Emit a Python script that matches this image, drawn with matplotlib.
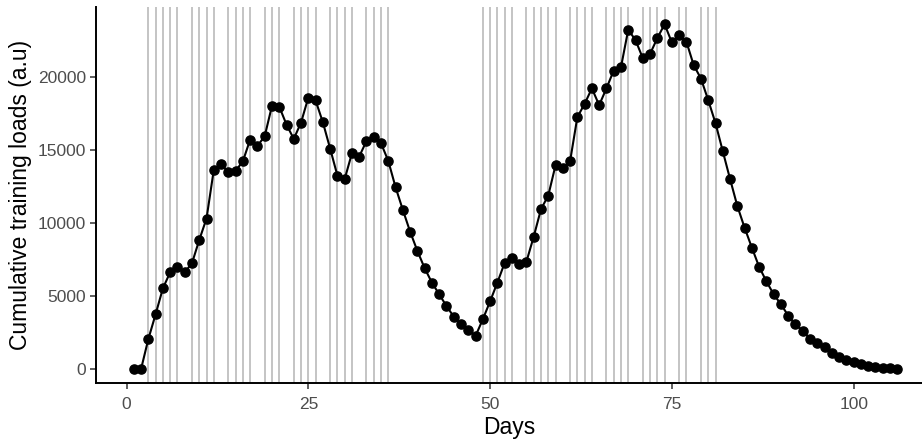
"""
Cumulative training loads over days, with training days marked
"""

import matplotlib
matplotlib.use("Agg")
import matplotlib.pyplot as plt

plt.rcParams['font.family'] = ['Liberation Sans', 'DejaVu Sans']

# days 1..106
days = list(range(1, 107))

loads = [
    0, 0, 2050, 3750, 5520, 6620, 6990, 6620, 7240, 8830,
    10300, 13630, 14020, 13470, 13560, 14220, 15700, 15270, 15930, 18010,
    17960, 16730, 15750, 16870, 18580, 18380, 16890, 15090, 13240, 13000,
    14770, 14540, 15610, 15910, 15450, 14240, 12440, 10890, 9400, 8080,
    6900, 5910, 5110, 4310, 3580, 3060, 2670, 2260, 3400, 4630,
    5910, 7260, 7620, 7190, 7350, 9060, 10940, 11870, 13950, 13760,
    14220, 17240, 18150, 19210, 18060, 19210, 20430, 20660, 23230, 22510,
    21280, 21570, 22650, 23600, 22350, 22850, 22400, 20800, 19880, 18400,
    16830, 14910, 13010, 11160, 9670, 8310, 6990, 6000, 5110, 4430,
    3650, 3060, 2600, 2080, 1780, 1490, 1120, 840, 640, 500,
    340, 230, 160, 90, 50, 0,
]

# days with a training session (grey vertical lines)
training_days = [
    3, 4, 5, 6, 7, 9, 10, 11, 12, 14, 15, 16, 17, 19, 20, 21,
    23, 24, 25, 26, 28, 29, 30, 31, 33, 34, 35, 36,
    49, 50, 51, 52, 53, 55, 56, 57, 58, 59, 61, 62, 63, 64,
    66, 67, 68, 69, 71, 72, 73, 74, 76, 77, 79, 80, 81,
]

x_ticks = [0, 25, 50, 75, 100]
y_ticks = [0, 5000, 10000, 15000, 20000]

# the reference text looks tall and narrow
narrow = ['Liberation Sans Narrow', 'Liberation Sans', 'DejaVu Sans']


def main():

    fig = plt.figure(figsize=(9.22, 4.42), dpi=100)
    ax = fig.add_axes([96 / 922, 1 - 383 / 442, 1 - 96 / 922, (383 - 7) / 442])

    for d in training_days:
        ax.axvline(d, color='#c4c4c4', linewidth=1.4, zorder=1)

    ax.plot(days, loads, color='black', linewidth=1.5, marker='o',
            markersize=6.6, zorder=3)

    ax.set_xlim(-4.2, 109.4)
    ax.set_ylim(-960, 24780)
    ax.set_xticks(x_ticks)
    ax.set_yticks(y_ticks)
    ax.set_xticklabels([str(t) for t in x_ticks], family=narrow, fontsize=12.5)
    ax.set_yticklabels([str(t) for t in y_ticks], family=narrow, fontsize=12.5)

    ax.spines['top'].set_visible(False)
    ax.spines['right'].set_visible(False)
    for s in ('left', 'bottom'):
        ax.spines[s].set_linewidth(1.4)
        ax.spines[s].set_color('black')
    ax.tick_params(axis='both', direction='out', length=4, width=1.1,
                   colors='#333333', labelcolor='#4d4d4d', pad=3)
    ax.tick_params(axis='x', pad=6)

    ax.set_xlabel('Days', family=narrow, fontsize=16.5, color='black', labelpad=3)
    ax.set_ylabel('Cumulative training loads (a.u)', fontsize=16.5,
                  color='black', labelpad=4)

    fig.savefig('out.png', dpi=100)


if __name__ == '__main__':
    main()
